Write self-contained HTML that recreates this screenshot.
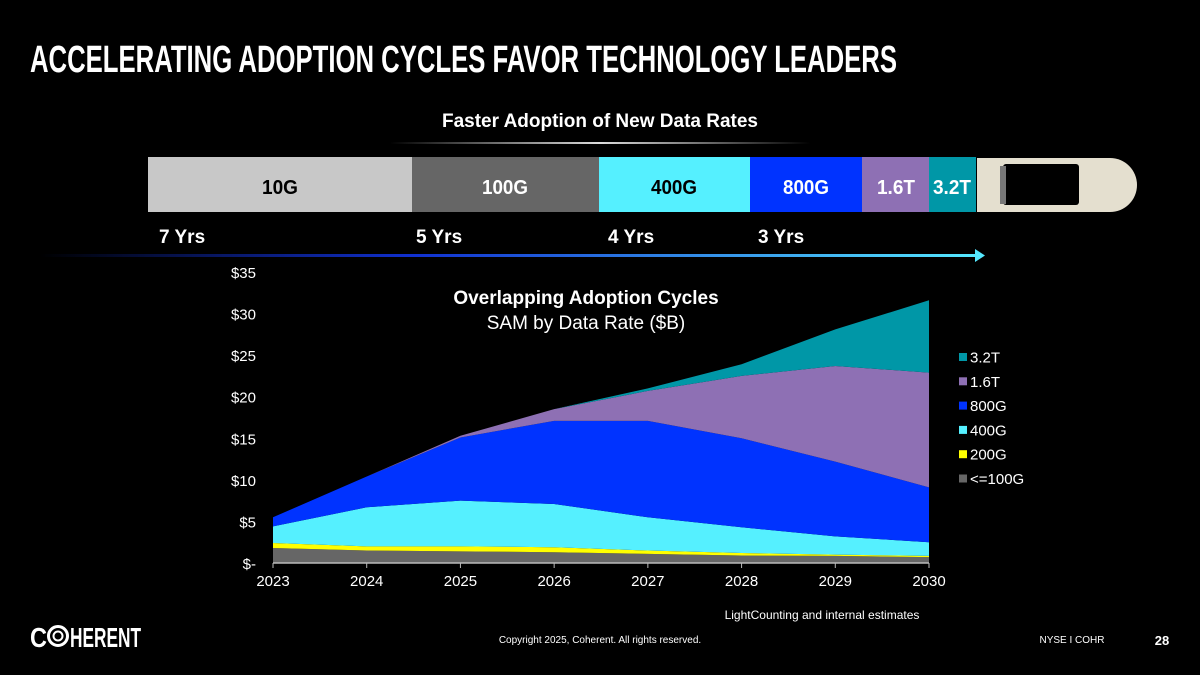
<!DOCTYPE html>
<html><head><meta charset="utf-8"><style>
html,body{margin:0;padding:0;background:#000;}
svg{display:block;font-family:"Liberation Sans",sans-serif;}
</style></head><body>
<svg id="s" width="1200" height="675" viewBox="0 0 1200 675">
<defs>
<linearGradient id="ul" x1="0" x2="1"><stop offset="0" stop-color="#000"/><stop offset="0.5" stop-color="#ddd"/><stop offset="1" stop-color="#000"/></linearGradient>
<linearGradient id="ar" x1="0" x2="1"><stop offset="0" stop-color="#000"/><stop offset="0.4" stop-color="#1030d0"/><stop offset="1" stop-color="#55e8ff"/></linearGradient>
</defs>
<rect width="1200" height="675" fill="#000"/>
<text x="30" y="72" fill="#fff" font-size="38" font-weight="bold" textLength="867" lengthAdjust="spacingAndGlyphs">ACCELERATING ADOPTION CYCLES FAVOR TECHNOLOGY LEADERS</text>
<text x="600" y="127" fill="#fff" font-size="19" font-weight="bold" text-anchor="middle">Faster Adoption of New Data Rates</text>
<rect x="390" y="142" width="420" height="2" fill="url(#ul)"/>
<g font-size="20" font-weight="bold">
<rect x="148" y="157" width="264" height="55" fill="#c8c8c8"/>
<rect x="412" y="157" width="187" height="55" fill="#666"/>
<rect x="599" y="157" width="151" height="55" fill="#55f0ff"/>
<rect x="750" y="157" width="112" height="55" fill="#0033ff"/>
<rect x="862" y="157" width="67" height="55" fill="#8e70b4"/>
<rect x="929" y="157" width="47" height="55" fill="#0097a7"/>
<text x="280" y="194" text-anchor="middle" fill="#000" textLength="36" lengthAdjust="spacingAndGlyphs">10G</text>
<text x="505" y="194" text-anchor="middle" fill="#fff" textLength="46" lengthAdjust="spacingAndGlyphs">100G</text>
<text x="674" y="194" text-anchor="middle" fill="#000" textLength="46" lengthAdjust="spacingAndGlyphs">400G</text>
<text x="806" y="194" text-anchor="middle" fill="#fff" textLength="46" lengthAdjust="spacingAndGlyphs">800G</text>
<text x="896" y="194" text-anchor="middle" fill="#fff" textLength="38" lengthAdjust="spacingAndGlyphs">1.6T</text>
<text x="952" y="194" text-anchor="middle" fill="#fff" textLength="38" lengthAdjust="spacingAndGlyphs">3.2T</text>
</g>
<g>
<path d="M977 158 H1110 A27 27 0 0 1 1110 212 H977 Z" fill="#e4dfcf"/>
<rect x="1003" y="164" width="76" height="41" rx="3" fill="#000"/>
<rect x="1000" y="166" width="6" height="38" fill="#777"/>
</g>
<g font-size="19" font-weight="bold" fill="#fff">
<text x="159" y="243">7 Yrs</text><text x="416" y="243">5 Yrs</text><text x="608" y="243">4 Yrs</text><text x="758" y="243">3 Yrs</text>
</g>
<rect x="40" y="254" width="935" height="3" fill="url(#ar)"/>
<path d="M975 249 L985 255.5 L975 262 Z" fill="#55e8ff"/>
<g id="chart"></g>
<text x="586" y="304" fill="#fff" font-size="19" font-weight="bold" text-anchor="middle">Overlapping Adoption Cycles</text>
<text x="586" y="329" fill="#fff" font-size="19" text-anchor="middle">SAM by Data Rate ($B)</text>
<text x="822" y="619" fill="#fff" font-size="12" text-anchor="middle">LightCounting and internal estimates</text>
<g>
<text x="30" y="647" fill="#fff" font-size="28" font-weight="bold" textLength="17" lengthAdjust="spacingAndGlyphs">C</text>
<circle cx="58" cy="636" r="9.5" fill="none" stroke="#fff" stroke-width="3"/>
<circle cx="58" cy="636" r="4.5" fill="none" stroke="#fff" stroke-width="2"/>
<text x="70" y="647" fill="#fff" font-size="28" font-weight="bold" textLength="71" lengthAdjust="spacingAndGlyphs">HERENT</text>
</g>
<text x="600" y="643" fill="#fff" font-size="10" text-anchor="middle">Copyright 2025, Coherent. All rights reserved.</text>
<text x="1072" y="643" fill="#fff" font-size="10" text-anchor="middle">NYSE I COHR</text>
<text x="1162" y="645" fill="#fff" font-size="13" font-weight="bold" text-anchor="middle">28</text>
</svg>
<script>
const years = ["2023","2024","2025","2026","2027","2028","2029","2030"];
const seriesNames = ["<=100G","200G","400G","800G","1.6T","3.2T"];
const seriesColors = ["#666666","#ffff00","#55f0ff","#0033ff","#8e70b4","#0097a7"];
const v100 = [1.8,1.5,1.4,1.3,1.1,0.9,0.85,0.7];
const v200 = [0.6,0.5,0.6,0.6,0.4,0.3,0.15,0.15];
const v400 = [2.0,4.7,5.5,5.2,4.0,3.1,2.2,1.65];
const v800 = [1.1,3.7,7.6,10.0,11.6,10.7,9.0,6.6];
const v1600 = [0,0,0.2,1.4,3.6,7.5,11.5,13.8];
const v3200 = [0,0,0,0,0.3,1.4,4.4,8.7];
const yTicks = [0,5,10,15,20,25,30,35];
const yTickLabels = ["$-","$5","$10","$15","$20","$25","$30","$35"];
const NS="http://www.w3.org/2000/svg";
const g=document.getElementById('chart');
const x0=273,x1=929,y0=563,yTop=272,yMax=35;
const xs=i=>x0+(x1-x0)*i/(years.length-1);
const ys=v=>y0-(y0-yTop)*v/yMax;
function mk(t,a){const e=document.createElementNS(NS,t);for(const k in a)e.setAttribute(k,a[k]);return e;}
const series=[v100,v200,v400,v800,v1600,v3200];
let base=years.map(()=>0);
series.forEach((s,si)=>{
  const top=base.map((b,i)=>b+s[i]);
  let d="M"+top.map((v,i)=>xs(i)+","+ys(v)).join(" L");
  for(let i=years.length-1;i>=0;i--) d+=" L"+xs(i)+","+ys(base[i]);
  const p=mk('path',{d:d+" Z",fill:seriesColors[si]});
  
  
  g.appendChild(p);
  base=top;
});
const ax=mk('line',{x1:x0,x2:x1,y1:y0,y2:y0,stroke:'#bbb','stroke-width':1.5});


g.appendChild(ax);
years.forEach((y,i)=>{
  const tk=mk('line',{x1:xs(i),x2:xs(i),y1:y0,y2:y0+5,stroke:'#bbb'});
  
  
  g.appendChild(tk);
  const t=mk('text',{x:xs(i),y:y0+23,fill:'#fff','font-size':15,'text-anchor':'middle'});
  t.textContent=y;
  
  
  g.appendChild(t);
});
yTicks.forEach((v,i)=>{
  const t=mk('text',{x:256,y:ys(v)+6,fill:'#fff','font-size':15,'text-anchor':'end'});
  t.textContent=yTickLabels[i];
  
  
  g.appendChild(t);
});
for(let k=seriesNames.length-1;k>=0;k--){
  const row=seriesNames.length-1-k;
  const yy=357+row*24.3;
  const r=mk('rect',{x:959,y:yy-4,width:8,height:8,fill:seriesColors[k]});
  
  
  g.appendChild(r);
  const t=mk('text',{x:970,y:yy+5.5,fill:'#fff','font-size':15});
  t.textContent=seriesNames[k];
  
  
  g.appendChild(t);
}
</script>
</body></html>
